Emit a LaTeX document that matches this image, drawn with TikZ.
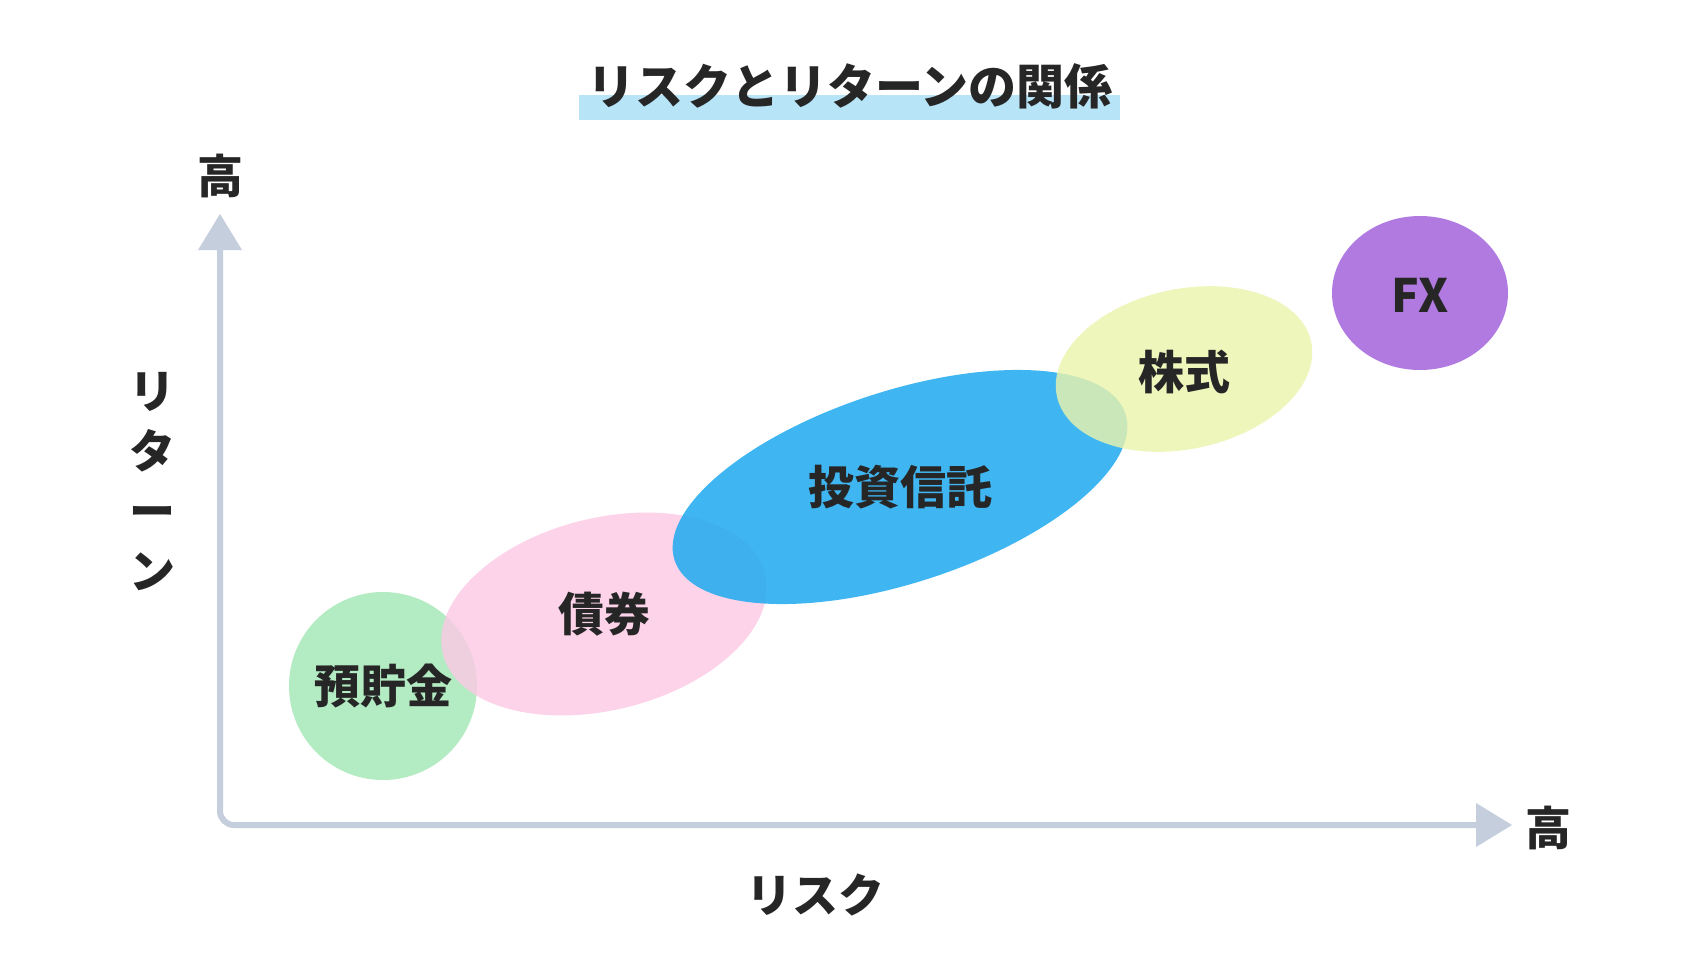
\documentclass[tikz,border=0pt]{standalone}
\usepackage{fontspec}
\setmainfont{Noto Sans CJK JP}
\begin{document}
\begin{tikzpicture}[x=1pt,y=-1pt,
  lab/.style={font=\fontsize{46}{50}\selectfont\bfseries, text=black!85},
  axis/.style={draw=axisc, line width=6pt}]
\definecolor{axisc}{HTML}{C5CEDD}
\definecolor{hl}{HTML}{B8E4F8}
\useasboundingbox[fill=white] (0,0) rectangle (1700,961);
\fill[hl] (579,95) rectangle (1120,120);
\node[lab, font=\fontsize{48}{52}\selectfont\bfseries] (title) at (850,86) {リスクとリターンの関係};
\coordinate (o) at (220,825);
\coordinate (ytip) at (220,232);
\coordinate (xtip) at (1490,825);
\draw[axis, rounded corners=14pt] (ytip) -- (o) -- (xtip);
\fill[axisc] (220,214) -- (242,250) -- (198,250) -- cycle;
\fill[axisc] (1512,825) -- (1476,847) -- (1476,803) -- cycle;
\node[lab] (yh) at (220,176) {高};
\node[lab] (xh) at (1548,828) {高};
\node[lab, align=center, font=\fontsize{46}{60}\selectfont\bfseries] (ret) at (152,482) {リ\\タ\\ー\\ン};
\node[lab] (risk) at (815,895) {リスク};
\fill[fill={rgb,255:red,160;green,230;blue,180}, opacity=0.8] (383,686) circle (94);
\fill[fill={rgb,255:red,253;green,200;blue,228}, opacity=0.8] (604,614) ellipse[x radius=166, y radius=96, rotate=14];
\fill[fill={rgb,255:red,30;green,170;blue,240}, opacity=0.85] (900,487) ellipse[x radius=237, y radius=96, rotate=18];
\fill[fill={rgb,255:red,236;green,244;blue,170}, opacity=0.8] (1184,369) ellipse[x radius=130, y radius=80, rotate=12];
\fill[fill={rgb,255:red,168;green,108;blue,222}, opacity=0.9] (1420,293) ellipse[x radius=88, y radius=77];
\node[lab] (n1) at (383,686) {預貯金};
\node[lab] (n2) at (604,614) {債券};
\node[lab] (n3) at (900,487) {投資信託};
\node[lab] (n4) at (1184,372) {株式};
\node[lab] (n5) at (1420,295) {FX};
\end{tikzpicture}
\end{document}
